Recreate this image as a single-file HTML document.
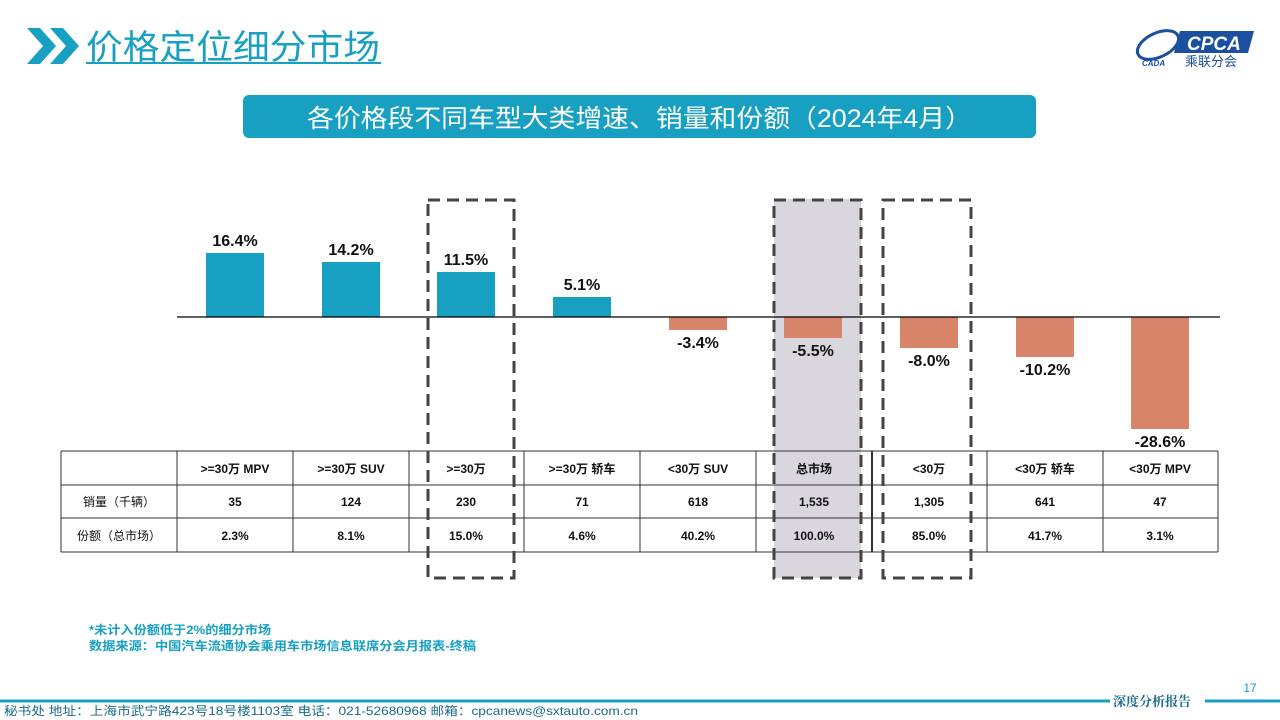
<!DOCTYPE html>
<html><head><meta charset="utf-8"><style>
body{margin:0;width:1280px;height:720px;background:#fff;overflow:hidden;font-family:"Liberation Sans","Noto Sans CJK SC",sans-serif}
svg{position:absolute;left:0;top:0}
</style></head><body>
<svg width="1280" height="720" xmlns="http://www.w3.org/2000/svg" font-family="Liberation Sans, Noto Sans CJK SC, sans-serif">
<!-- header -->
<polygon points="27,28 40,28 56,46 40,64 27,64 43,46" fill="#17a0c2"/>
<polygon points="50,28 63,28 79,46 63,64 50,64 66,46" fill="#17a0c2"/>
<text x="86" y="59" font-size="34" fill="#17a0c2" textLength="294" lengthAdjust="spacingAndGlyphs">价格定位细分市场</text>
<line x1="86" y1="63" x2="381" y2="63" stroke="#17a0c2" stroke-width="2"/>
<!-- logo -->
<ellipse cx="1158" cy="45" rx="22" ry="12" fill="none" stroke="#1b4fa0" stroke-width="3" transform="rotate(-25 1158 45)"/>
<polygon points="1180,31 1254,31 1248,53 1174,53" fill="#1b4fa0"/>
<text x="1187" y="50" font-size="19" font-style="italic" fill="#fff" font-weight="bold">CPCA</text>
<text x="1185" y="66" font-size="13" fill="#1b4fa0">乘联分会</text>
<text x="1142" y="66" font-size="8" font-style="italic" fill="#1b4fa0" font-weight="bold">CADA</text>
<!-- banner -->
<rect x="243" y="95" width="793" height="43" rx="6" fill="#17a0c2"/>
<text x="307" y="127" font-size="25" fill="#fff" textLength="665" lengthAdjust="spacingAndGlyphs">各价格段不同车型大类增速、销量和份额（2024年4月）</text>
<!-- gray box -->
<rect x="774" y="199" width="87" height="379" fill="#d9d7dd"/>
<!-- bars -->
<g fill="#17a0c2">
<rect x="206" y="253" width="58" height="64"/>
<rect x="322" y="262" width="58" height="55"/>
<rect x="437" y="272" width="58" height="45"/>
<rect x="553" y="297" width="58" height="20"/>
</g>
<g fill="#d9856a">
<rect x="669" y="317" width="58" height="13"/>
<rect x="784" y="317" width="58" height="21"/>
<rect x="900" y="317" width="58" height="31"/>
<rect x="1016" y="317" width="58" height="40"/>
<rect x="1131" y="317" width="58" height="112"/>
</g>
<line x1="177" y1="317" x2="1220" y2="317" stroke="#000" stroke-width="1.3"/>
<g font-size="16" font-weight="bold" text-anchor="middle" fill="#111">
<text x="235" y="246">16.4%</text>
<text x="351" y="255">14.2%</text>
<text x="466" y="265">11.5%</text>
<text x="582" y="290">5.1%</text>
<text x="698" y="348">-3.4%</text>
<text x="813" y="356">-5.5%</text>
<text x="929" y="366">-8.0%</text>
<text x="1045" y="375">-10.2%</text>
<text x="1160" y="447">-28.6%</text>
</g>
<!-- table -->
<g stroke="#333" stroke-width="1">
<line x1="61" y1="451" x2="1218" y2="451"/>
<line x1="61" y1="485" x2="1218" y2="485"/>
<line x1="61" y1="518" x2="1218" y2="518"/>
<line x1="61" y1="552" x2="1218" y2="552"/>
<line x1="61" y1="451" x2="61" y2="552"/>
<line x1="177" y1="451" x2="177" y2="552"/>
<line x1="293" y1="451" x2="293" y2="552"/>
<line x1="409" y1="451" x2="409" y2="552"/>
<line x1="524" y1="451" x2="524" y2="552"/>
<line x1="640" y1="451" x2="640" y2="552"/>
<line x1="756" y1="451" x2="756" y2="552"/>
<line x1="872" y1="451" x2="872" y2="552" stroke-width="2"/>
<line x1="987" y1="451" x2="987" y2="552"/>
<line x1="1103" y1="451" x2="1103" y2="552"/>
<line x1="1218" y1="451" x2="1218" y2="552"/>
</g>
<g font-size="12" text-anchor="middle" fill="#111">
<g font-weight="bold">
<text x="235" y="473">&gt;=30万 MPV</text><text x="351" y="473">&gt;=30万 SUV</text><text x="466" y="473">&gt;=30万</text><text x="582" y="473">&gt;=30万 轿车</text><text x="698" y="473">&lt;30万 SUV</text><text x="814" y="473">总市场</text><text x="929" y="473">&lt;30万</text><text x="1045" y="473">&lt;30万 轿车</text><text x="1160" y="473">&lt;30万 MPV</text>
<text x="235" y="506">35</text><text x="351" y="506">124</text><text x="466" y="506">230</text><text x="582" y="506">71</text><text x="698" y="506">618</text><text x="814" y="506">1,535</text><text x="929" y="506">1,305</text><text x="1045" y="506">641</text><text x="1160" y="506">47</text>
<text x="235" y="540">2.3%</text><text x="351" y="540">8.1%</text><text x="466" y="540">15.0%</text><text x="582" y="540">4.6%</text><text x="698" y="540">40.2%</text><text x="814" y="540">100.0%</text><text x="929" y="540">85.0%</text><text x="1045" y="540">41.7%</text><text x="1160" y="540">3.1%</text>
</g>
<text x="119" y="506">销量（千辆）</text>
<text x="119" y="540">份额（总市场）</text>
</g>
<!-- dashed boxes -->
<g fill="none" stroke="#444" stroke-width="3" stroke-dasharray="12,7">
<rect x="428" y="200" width="86" height="378"/>
<rect x="774" y="200" width="87" height="378"/>
<rect x="883" y="200" width="88" height="378"/>
</g>
<!-- footnotes -->
<g font-size="12" font-weight="bold" fill="#17a0c2">
<text x="89" y="634" textLength="182" lengthAdjust="spacingAndGlyphs">*未计入份额低于2%的细分市场</text>
<text x="89" y="650" textLength="387" lengthAdjust="spacingAndGlyphs">数据来源：中国汽车流通协会乘用车市场信息联席分会月报表-终稿</text>
</g>
<!-- footer -->
<line x1="0" y1="701" x2="1110" y2="701" stroke="#17a0c2" stroke-width="3"/>
<line x1="1205" y1="701" x2="1280" y2="701" stroke="#17a0c2" stroke-width="3"/>
<text x="1113" y="706" font-size="13" fill="#1b6a8a" font-family="Liberation Serif, Noto Serif CJK SC, serif" font-weight="bold">深度分析报告</text>
<text x="1250" y="692" font-size="12" fill="#17a0c2" text-anchor="middle">17</text>
<text x="4" y="715" font-size="12" fill="#1b6a8a" textLength="634" lengthAdjust="spacingAndGlyphs">秘书处   地址：上海市武宁路423号18号楼1103室   电话：021-52680968   邮箱：cpcanews@sxtauto.com.cn</text>
</svg>
</body></html>
